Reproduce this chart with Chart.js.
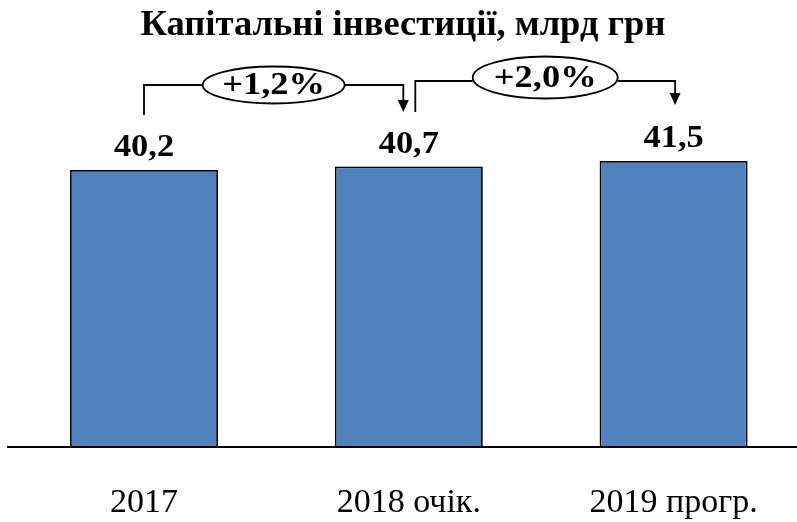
<!DOCTYPE html>
<html>
<head>
<meta charset="utf-8">
<script src="https://cdn.jsdelivr.net/npm/chart.js@4"></script>
<style>
html,body{margin:0;padding:0;background:#fff;overflow:hidden;width:797px;height:522px;}
#wrap{position:absolute;left:0;top:0;width:806px;height:522px;}
</style>
</head>
<body>
<div id="wrap"><canvas id="c" width="806" height="522"></canvas></div>
<script>
const categories = ['2017', '2018 очік.', '2019 прогр.'];
const values = [40.2, 40.7, 41.5];
const valueLabels = ['40,2', '40,7', '41,5'];
const growthLabels = ['+1,2%', '+2,0%'];
const titleText = 'Капітальні інвестиції, млрд грн';

const SERIF = '"Liberation Serif", "Times New Roman", serif';

// connector styling (positions relative to bar centres)
const connStyle = [
  {dxL: 0, dxR: -5.5, lineY: 85, leftBottom: 115, tipY: 112, ellY: 85, rx: 71, ry: 18.5},
  {dxL: 6.5, dxR: 1.5, lineY: 81, leftBottom: 112, tipY: 105, ellY: 77.5, rx: 72.5, ry: 21}
];

function stretchedText(ctx, text, x, y, sx) {
  ctx.save();
  ctx.translate(x, y);
  ctx.scale(sx, 1);
  ctx.fillText(text, 0, 0);
  ctx.restore();
}

const overlay = {
  id: 'overlay',
  afterDatasetsDraw(chart) {
    const ctx = chart.ctx;
    const meta = chart.getDatasetMeta(0);
    const ys = chart.scales.y;
    // baseline
    ctx.save();
    ctx.strokeStyle = '#000';
    ctx.lineWidth = 2;
    const by = Math.round(ys.getPixelForValue(0));
    ctx.beginPath();
    ctx.moveTo(7, by);
    ctx.lineTo(chart.width, by);
    ctx.stroke();
    // value labels
    ctx.fillStyle = '#000';
    ctx.font = 'bold 31px ' + SERIF;
    ctx.textAlign = 'center';
    ctx.textBaseline = 'alphabetic';
    meta.data.forEach((bar, i) => {
      stretchedText(ctx, valueLabels[i], bar.x, bar.y - 14, 1.11);
    });
    // connectors
    ctx.lineWidth = 1.8;
    growthLabels.forEach((lab, i) => {
      const s = connStyle[i];
      const x1 = meta.data[i].x + s.dxL;
      const x2 = meta.data[i + 1].x + s.dxR;
      const cx = (x1 + x2) / 2;
      ctx.beginPath();
      ctx.moveTo(x1, s.leftBottom);
      ctx.lineTo(x1, s.lineY);
      ctx.lineTo(cx - s.rx, s.lineY);
      ctx.moveTo(cx + s.rx, s.lineY);
      ctx.lineTo(x2, s.lineY);
      ctx.lineTo(x2, s.tipY - 11);
      ctx.stroke();
      ctx.beginPath();
      ctx.moveTo(x2 - 5.5, s.tipY - 12);
      ctx.lineTo(x2 + 5.5, s.tipY - 12);
      ctx.lineTo(x2, s.tipY);
      ctx.closePath();
      ctx.fill();
      ctx.beginPath();
      ctx.ellipse(cx, s.ellY, s.rx, s.ry, 0, 0, Math.PI * 2);
      ctx.fillStyle = '#fff';
      ctx.fill();
      ctx.stroke();
      ctx.fillStyle = '#000';
      ctx.font = 'bold 32px ' + SERIF;
      ctx.textBaseline = 'middle';
      stretchedText(ctx, lab, cx, s.ellY + 1, 1.14);
    });
    ctx.restore();
  }
};

new Chart(document.getElementById('c'), {
  type: 'bar',
  data: {
    labels: categories,
    datasets: [{
      data: values,
      backgroundColor: '#4F81BD',
      borderColor: '#000',
      borderWidth: 1.8,
      barPercentage: 0.559,
      categoryPercentage: 1
    }]
  },
  options: {
    responsive: false,
    animation: false,
    events: [],
    layout: {padding: 0},
    plugins: {
      legend: {display: false},
      tooltip: {enabled: false},
      title: {
        display: true,
        text: titleText,
        color: '#000',
        font: {family: SERIF, size: 36.5, weight: 'bold', lineHeight: 1.1},
        padding: {top: 6, bottom: 1.2}
      }
    },
    scales: {
      x: {
        grid: {display: false, drawTicks: false, tickLength: 0},
        border: {display: false},
        ticks: {color: '#000', font: {family: SERIF, size: 34}, padding: 36, maxRotation: 0, autoSkip: false},
        afterFit(scale) { scale.height = 75; }
      },
      y: {
        display: true,
        min: 0,
        max: 58,
        grid: {display: false, drawTicks: false, tickLength: 0},
        border: {display: false},
        ticks: {display: false},
        afterFit(scale) { scale.width = 11.6; }
      }
    }
  },
  plugins: [overlay]
});
</script>
</body>
</html>
